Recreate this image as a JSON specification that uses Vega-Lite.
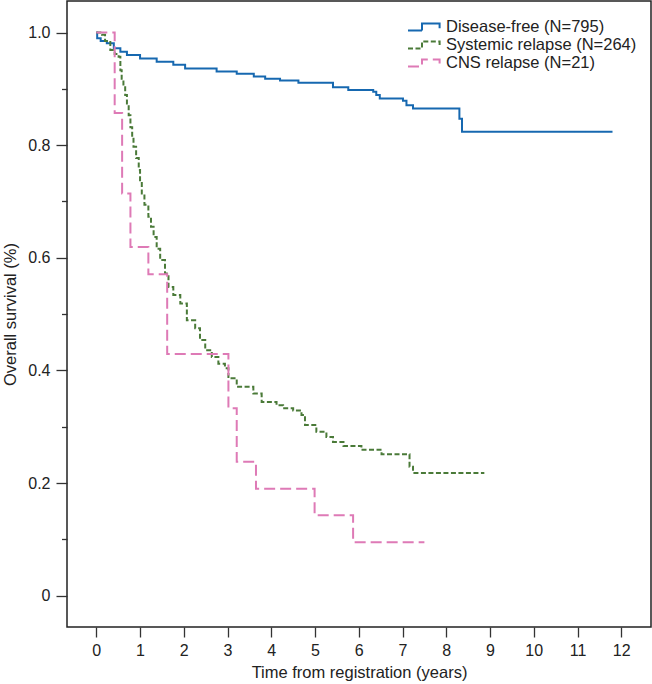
{
  "$schema": "https://vega.github.io/schema/vega-lite/v6.json",
  "width": 584,
  "height": 626,
  "autosize": {"type": "none"},
  "padding": {"left": 67, "top": 1, "right": 1, "bottom": 57},
  "background": "white",
  "config": {
    "font": "Liberation Sans",
    "view": {"stroke": "#222222", "strokeWidth": 1.5},
    "axis": {
      "domain": false,
      "grid": false,
      "tickColor": "#333333",
      "tickWidth": 1.3,
      "labelFont": "Liberation Sans",
      "titleFont": "Liberation Sans",
      "labelFontSize": 16,
      "titleFontSize": 16.5,
      "titleFontWeight": "normal",
      "labelColor": "#222222",
      "titleColor": "#222222"
    },
    "legend": {
      "labelFont": "Liberation Sans",
      "labelFontSize": 16.5,
      "labelColor": "#222222",
      "labelLimit": 0
    }
  },
  "datasets": {
    "km": [
      {"group": "Disease-free (N=795)", "t": 0, "s": 1.0},
      {"group": "Disease-free (N=795)", "t": 0.02, "s": 0.99},
      {"group": "Disease-free (N=795)", "t": 0.1, "s": 0.985},
      {"group": "Disease-free (N=795)", "t": 0.24, "s": 0.981},
      {"group": "Disease-free (N=795)", "t": 0.4, "s": 0.972},
      {"group": "Disease-free (N=795)", "t": 0.55, "s": 0.966},
      {"group": "Disease-free (N=795)", "t": 0.7, "s": 0.96},
      {"group": "Disease-free (N=795)", "t": 1.0, "s": 0.954},
      {"group": "Disease-free (N=795)", "t": 1.38, "s": 0.948},
      {"group": "Disease-free (N=795)", "t": 1.76, "s": 0.943},
      {"group": "Disease-free (N=795)", "t": 2.03, "s": 0.936},
      {"group": "Disease-free (N=795)", "t": 2.75, "s": 0.931},
      {"group": "Disease-free (N=795)", "t": 3.21, "s": 0.927},
      {"group": "Disease-free (N=795)", "t": 3.6, "s": 0.922},
      {"group": "Disease-free (N=795)", "t": 3.86, "s": 0.918},
      {"group": "Disease-free (N=795)", "t": 4.2, "s": 0.915},
      {"group": "Disease-free (N=795)", "t": 4.62, "s": 0.911},
      {"group": "Disease-free (N=795)", "t": 5.41, "s": 0.903},
      {"group": "Disease-free (N=795)", "t": 5.76, "s": 0.898},
      {"group": "Disease-free (N=795)", "t": 6.33, "s": 0.895},
      {"group": "Disease-free (N=795)", "t": 6.4, "s": 0.889},
      {"group": "Disease-free (N=795)", "t": 6.48, "s": 0.883},
      {"group": "Disease-free (N=795)", "t": 7.01, "s": 0.879},
      {"group": "Disease-free (N=795)", "t": 7.09, "s": 0.871},
      {"group": "Disease-free (N=795)", "t": 7.24, "s": 0.865},
      {"group": "Disease-free (N=795)", "t": 8.3, "s": 0.847},
      {"group": "Disease-free (N=795)", "t": 8.36, "s": 0.824},
      {"group": "Disease-free (N=795)", "t": 11.8, "s": 0.824},
      {"group": "Systemic relapse (N=264)", "t": 0, "s": 1.0},
      {"group": "Systemic relapse (N=264)", "t": 0.13, "s": 0.996},
      {"group": "Systemic relapse (N=264)", "t": 0.2, "s": 0.985},
      {"group": "Systemic relapse (N=264)", "t": 0.32, "s": 0.969},
      {"group": "Systemic relapse (N=264)", "t": 0.42, "s": 0.962},
      {"group": "Systemic relapse (N=264)", "t": 0.51, "s": 0.957},
      {"group": "Systemic relapse (N=264)", "t": 0.55, "s": 0.933},
      {"group": "Systemic relapse (N=264)", "t": 0.58, "s": 0.918},
      {"group": "Systemic relapse (N=264)", "t": 0.62, "s": 0.903},
      {"group": "Systemic relapse (N=264)", "t": 0.66, "s": 0.889},
      {"group": "Systemic relapse (N=264)", "t": 0.7, "s": 0.874},
      {"group": "Systemic relapse (N=264)", "t": 0.74, "s": 0.853},
      {"group": "Systemic relapse (N=264)", "t": 0.78, "s": 0.832},
      {"group": "Systemic relapse (N=264)", "t": 0.82, "s": 0.815},
      {"group": "Systemic relapse (N=264)", "t": 0.85, "s": 0.797},
      {"group": "Systemic relapse (N=264)", "t": 0.91, "s": 0.777},
      {"group": "Systemic relapse (N=264)", "t": 0.97, "s": 0.756},
      {"group": "Systemic relapse (N=264)", "t": 1.0, "s": 0.735},
      {"group": "Systemic relapse (N=264)", "t": 1.04, "s": 0.714},
      {"group": "Systemic relapse (N=264)", "t": 1.1, "s": 0.694},
      {"group": "Systemic relapse (N=264)", "t": 1.19, "s": 0.673},
      {"group": "Systemic relapse (N=264)", "t": 1.25, "s": 0.655},
      {"group": "Systemic relapse (N=264)", "t": 1.31, "s": 0.637},
      {"group": "Systemic relapse (N=264)", "t": 1.38, "s": 0.616},
      {"group": "Systemic relapse (N=264)", "t": 1.46, "s": 0.596},
      {"group": "Systemic relapse (N=264)", "t": 1.57, "s": 0.572},
      {"group": "Systemic relapse (N=264)", "t": 1.65, "s": 0.548},
      {"group": "Systemic relapse (N=264)", "t": 1.76, "s": 0.534},
      {"group": "Systemic relapse (N=264)", "t": 1.92, "s": 0.519},
      {"group": "Systemic relapse (N=264)", "t": 2.07, "s": 0.489},
      {"group": "Systemic relapse (N=264)", "t": 2.26, "s": 0.475},
      {"group": "Systemic relapse (N=264)", "t": 2.37, "s": 0.454},
      {"group": "Systemic relapse (N=264)", "t": 2.49, "s": 0.436},
      {"group": "Systemic relapse (N=264)", "t": 2.64, "s": 0.424},
      {"group": "Systemic relapse (N=264)", "t": 2.79, "s": 0.412},
      {"group": "Systemic relapse (N=264)", "t": 2.94, "s": 0.404},
      {"group": "Systemic relapse (N=264)", "t": 3.02, "s": 0.386},
      {"group": "Systemic relapse (N=264)", "t": 3.21, "s": 0.371},
      {"group": "Systemic relapse (N=264)", "t": 3.59, "s": 0.359},
      {"group": "Systemic relapse (N=264)", "t": 3.78, "s": 0.344},
      {"group": "Systemic relapse (N=264)", "t": 4.12, "s": 0.338},
      {"group": "Systemic relapse (N=264)", "t": 4.27, "s": 0.333},
      {"group": "Systemic relapse (N=264)", "t": 4.5, "s": 0.329},
      {"group": "Systemic relapse (N=264)", "t": 4.69, "s": 0.321},
      {"group": "Systemic relapse (N=264)", "t": 4.77, "s": 0.303},
      {"group": "Systemic relapse (N=264)", "t": 5.03, "s": 0.291},
      {"group": "Systemic relapse (N=264)", "t": 5.26, "s": 0.282},
      {"group": "Systemic relapse (N=264)", "t": 5.41, "s": 0.273},
      {"group": "Systemic relapse (N=264)", "t": 5.65, "s": 0.266},
      {"group": "Systemic relapse (N=264)", "t": 6.06, "s": 0.259},
      {"group": "Systemic relapse (N=264)", "t": 6.52, "s": 0.251},
      {"group": "Systemic relapse (N=264)", "t": 7.16, "s": 0.229},
      {"group": "Systemic relapse (N=264)", "t": 7.24, "s": 0.218},
      {"group": "Systemic relapse (N=264)", "t": 8.87, "s": 0.218},
      {"group": "CNS relapse (N=21)", "t": 0, "s": 1.0},
      {"group": "CNS relapse (N=21)", "t": 0.42, "s": 0.857},
      {"group": "CNS relapse (N=21)", "t": 0.59, "s": 0.714},
      {"group": "CNS relapse (N=21)", "t": 0.78, "s": 0.619},
      {"group": "CNS relapse (N=21)", "t": 1.19, "s": 0.571},
      {"group": "CNS relapse (N=21)", "t": 1.62, "s": 0.429},
      {"group": "CNS relapse (N=21)", "t": 3.02, "s": 0.333},
      {"group": "CNS relapse (N=21)", "t": 3.21, "s": 0.238},
      {"group": "CNS relapse (N=21)", "t": 3.65, "s": 0.19},
      {"group": "CNS relapse (N=21)", "t": 4.99, "s": 0.143},
      {"group": "CNS relapse (N=21)", "t": 5.87, "s": 0.095},
      {"group": "CNS relapse (N=21)", "t": 7.5, "s": 0.095}
    ]
  },
  "data": {"name": "km"},
  "resolve": {"axis": {"y": "independent"}},
  "layer": [
    {
      "mark": {"type": "line", "interpolate": "step-after", "strokeWidth": 2},
      "encoding": {
        "x": {
          "field": "t",
          "type": "quantitative",
          "scale": {"domain": [-0.67, 12.68], "nice": false, "zero": false},
          "axis": {
            "values": [0, 1, 2, 3, 4, 5, 6, 7, 8, 9, 10, 11, 12],
            "tickSize": 10,
            "labelPadding": 5,
            "title": "Time from registration (years)",
            "titlePadding": 6
          }
        },
        "y": {
          "field": "s",
          "type": "quantitative",
          "scale": {"domain": [-0.0556, 1.056], "nice": false, "zero": false},
          "axis": {
            "orient": "left",
            "values": [0, 0.2, 0.4, 0.6, 0.8, 1.0],
            "tickSize": 11,
            "labelPadding": 6,
            "labelExpr": "datum.value == 0 ? '0' : format(datum.value, '.1f')",
            "title": "Overall survival (%)",
            "titlePadding": 9
          }
        },
        "color": {
          "field": "group",
          "type": "nominal",
          "scale": {
            "domain": ["Disease-free (N=795)", "Systemic relapse (N=264)", "CNS relapse (N=21)"],
            "range": ["#1668b0", "#4a7a38", "#de7ab6"]
          },
          "legend": {
            "title": null,
            "orient": "none",
            "legendX": 348,
            "legendY": 17,
            "padding": 0,
            "symbolType": "M-2,0.45H-0.25V-0.45H1.95V0.15",
            "symbolSize": 256,
            "symbolStrokeWidth": 2,
            "symbolFillColor": "transparent",
            "labelOffset": 13,
            "rowPadding": -1.2
          }
        },
        "strokeDash": {
          "field": "group",
          "type": "nominal",
          "scale": {
            "domain": ["Disease-free (N=795)", "Systemic relapse (N=264)", "CNS relapse (N=21)"],
            "range": [[1, 0], [5, 2.5], [11, 5]]
          },
          "legend": {
            "title": null,
            "orient": "none",
            "legendX": 348,
            "legendY": 17,
            "padding": 0,
            "symbolType": "M-2,0.45H-0.25V-0.45H1.95V0.15",
            "symbolSize": 256,
            "symbolStrokeWidth": 2,
            "symbolFillColor": "transparent",
            "labelOffset": 13,
            "rowPadding": -1.2
          }
        }
      }
    },
    {
      "mark": {"type": "point", "opacity": 0},
      "encoding": {
        "y": {
          "field": "s",
          "type": "quantitative",
          "axis": {
            "orient": "left",
            "values": [0.1, 0.3, 0.5, 0.7, 0.9],
            "tickSize": 5.5,
            "labels": false,
            "title": null
          }
        }
      }
    }
  ]
}
